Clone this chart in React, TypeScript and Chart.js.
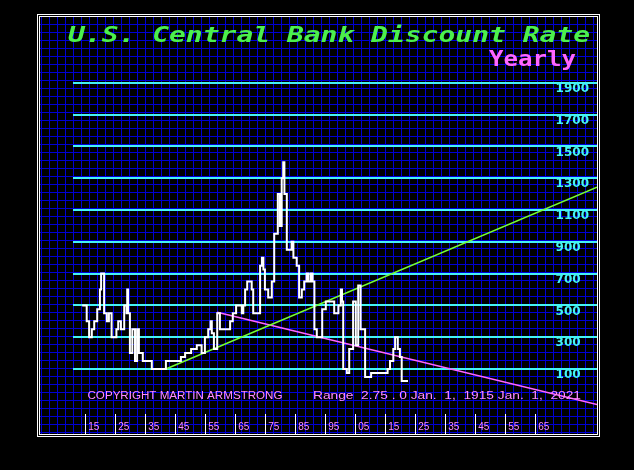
import React, { useEffect, useRef } from 'react';
import { Chart, registerables } from 'chart.js';

Chart.register(...registerables);

// ---- data (rate in basis points, i.e. 100 = 1%) ----
const pathYears = [
  1913.8, 1915.3, 1916.1, 1917.0, 1917.8, 1918.8, 1919.7, 1920.1, 1921.1, 1922.0,
  1922.7, 1923.6, 1925.2, 1925.8, 1926.7, 1927.8, 1928.6, 1928.8, 1929.1, 1929.7,
  1930.5, 1931.4, 1932.1, 1932.7, 1934.0, 1937.0, 1941.7, 1946.7, 1948.1, 1950.1,
  1952.0, 1953.6, 1954.7, 1955.8, 1956.6, 1957.0, 1957.7, 1958.8, 1959.7, 1963.1,
  1964.0, 1965.1, 1967.0, 1967.5, 1968.1, 1968.8, 1970.3, 1970.8, 1973.1, 1973.7,
  1974.2, 1974.7, 1975.8, 1977.0, 1977.8, 1979.0, 1979.7, 1980.3, 1980.8, 1981.2,
  1982.0, 1983.6, 1984.2, 1985.3, 1986.1, 1987.0, 1987.8, 1988.6, 1989.2, 1990.0,
  1990.6, 1991.2, 1992.0, 1993.8, 1995.0, 1997.8, 1999.2, 2000.0, 2000.4, 2000.8,
  2002.0, 2002.8, 2004.1, 2005.0, 2005.8, 2006.6, 2008.1, 2010.1, 2015.6, 2016.4,
  2017.5, 2018.1, 2019.0, 2019.7, 2020.3, 2022.4,
];
const pathRates = [
  500, 400, 300, 350, 400, 475, 600, 700, 450, 400,
  450, 300, 350, 400, 350, 500, 450, 600, 450, 200,
  350, 150, 350, 200, 150, 100, 150, 175, 200, 225,
  250, 200, 300, 350, 400, 325, 225, 450, 350, 400,
  450, 500, 450, 500, 600, 650, 600, 450, 750, 800,
  725, 600, 550, 650, 950, 1200, 1000, 1300, 1400, 1200,
  850, 900, 800, 750, 550, 600, 650, 700, 650, 700,
  650, 350, 300, 475, 525, 450, 500, 600, 525, 100,
  75, 225, 525, 250, 625, 350, 50, 75, 100, 150,
  225, 300, 225, 175, 25, 25,
];
const greenTrendYears = [1941.7, 2085.4];
const greenTrendRates = [100, 1243];
const pinkTrendYears = [1958.8, 2085.4];
const pinkTrendRates = [457, -123];

const yTickValues = [100, 300, 500, 700, 900, 1100, 1300, 1500, 1700, 1900];
const xTickYears = [1915, 1925, 1935, 1945, 1955, 1965, 1975, 1985, 1995, 2005, 2015, 2025, 2035, 2045, 2055, 2065];
const xTickLabels = ['15', '25', '35', '45', '55', '65', '75', '85', '95', '05', '15', '25', '35', '45', '55', '65'];

const titleText = 'U.S. Central Bank Discount Rate';
const subtitleText = 'Yearly';
const copyrightText = 'COPYRIGHT MARTIN ARMSTRONG';
const rangeText = 'Range  2.75 . 0 Jan.  1,  1915 Jan.  1,  2021';

// ---- styles ----
const GRID_BLUE = '#0000d4';
const CYAN = '#44f4f4';
const TITLE_GREEN = '#4cf04c';
const MAGENTA = '#ff66ff';
const TEXT_PINK = '#ff8cff';
const TREND_GREEN = '#77ff33';

function drawStretched(
  ctx: CanvasRenderingContext2D,
  text: string,
  font: string,
  color: string,
  left: number,
  baseline: number,
  width: number
) {
  ctx.save();
  ctx.font = font;
  const w = ctx.measureText(text).width;
  ctx.translate(left, baseline);
  ctx.scale(width / w, 1);
  ctx.fillStyle = color;
  ctx.textBaseline = 'alphabetic';
  ctx.textAlign = 'left';
  ctx.fillText(text, 0, 0);
  ctx.restore();
}

export default function App() {
  const canvasRef = useRef<HTMLCanvasElement>(null);

  useEffect(() => {
    const canvas = canvasRef.current;
    if (!canvas) return;

    const screenPlugin = {
      id: 'screenBackground',
      beforeDraw(chart: any) {
        const ctx = chart.ctx as CanvasRenderingContext2D;
        ctx.save();
        ctx.fillStyle = '#000000';
        ctx.fillRect(0, 0, chart.width, chart.height);
        ctx.fillStyle = GRID_BLUE;
        for (let x = 41; x < 597; x += 8) ctx.fillRect(x, 17, 1, 417);
        for (let y = 24; y < 434; y += 8) ctx.fillRect(40, y, 557, 1);
        ctx.restore();
      },
      afterDraw(chart: any) {
        const ctx = chart.ctx as CanvasRenderingContext2D;
        ctx.save();
        ctx.strokeStyle = '#ffffff';
        ctx.lineWidth = 1;
        ctx.strokeRect(37.5, 14.5, 562, 422);
        ctx.strokeRect(39.5, 16.5, 558, 418);
        ctx.restore();
        drawStretched(ctx, titleText, 'italic bold 22px "DejaVu Sans Mono"', TITLE_GREEN, 68, 42, 522);
        drawStretched(ctx, subtitleText, 'bold 22px "DejaVu Sans Mono"', MAGENTA, 489, 65.5, 87);
        drawStretched(ctx, copyrightText, '10px "Liberation Sans"', TEXT_PINK, 87.5, 398.5, 195);
        drawStretched(ctx, rangeText, '10px "Liberation Sans"', TEXT_PINK, 313, 398.5, 268);
      },
    };

    const chart = new Chart(canvas, {
      type: 'line',
      data: {
        datasets: [
          {
            label: 'Discount rate',
            data: pathYears.map((x, i) => ({ x, y: pathRates[i] })),
            borderColor: '#ffffff',
            borderWidth: 2,
            pointRadius: 0,
            stepped: 'before',
            borderJoinStyle: 'miter',
            borderCapStyle: 'butt',
            fill: false,
            order: 1,
          },
          {
            label: 'Rising trend',
            data: greenTrendYears.map((x, i) => ({ x, y: greenTrendRates[i] })),
            borderColor: TREND_GREEN,
            borderWidth: 1.5,
            pointRadius: 0,
            fill: false,
            order: 2,
          },
          {
            label: 'Falling trend',
            data: pinkTrendYears.map((x, i) => ({ x, y: pinkTrendRates[i] })),
            borderColor: MAGENTA,
            borderWidth: 1.5,
            pointRadius: 0,
            fill: false,
            order: 2,
          },
        ],
      },
      options: {
        responsive: false,
        animation: false,
        events: [],
        layout: { padding: { left: 73, right: 37, top: 16, bottom: 35 } },
        plugins: {
          legend: { display: false },
          tooltip: { enabled: false },
          title: { display: false },
        },
        scales: {
          x: {
            type: 'linear',
            display: false,
            min: 1910.73,
            max: 2085.4,
            bounds: 'data',
          },
          xt: {
            type: 'linear',
            position: 'bottom',
            min: 1910.73,
            max: 2085.4,
            bounds: 'data',
            afterBuildTicks: (scale: any) => {
              scale.ticks = xTickYears.map((v) => ({ value: v }));
            },
            afterFit: (scale: any) => {
              scale.height = 21;
            },
            grid: {
              drawOnChartArea: false,
              drawTicks: true,
              tickLength: 21,
              color: '#ffffff',
              lineWidth: 1,
            },
            border: { display: false },
            ticks: {
              autoSkip: false,
              maxRotation: 0,
              minRotation: 0,
              padding: -14,
              labelOffset: 8,
              color: TEXT_PINK,
              font: { family: 'Liberation Sans', size: 10 },
              callback: (_v: any, i: number) => xTickLabels[i],
            },
          },
          y: {
            type: 'linear',
            position: 'right',
            min: -183,
            max: 2320,
            bounds: 'data',
            afterBuildTicks: (scale: any) => {
              scale.ticks = yTickValues.map((v) => ({ value: v }));
            },
            afterFit: (scale: any) => {
              scale.width = 0;
            },
            grid: {
              color: CYAN,
              lineWidth: 2,
              drawTicks: false,
            },
            border: { display: false },
            ticks: {
              mirror: true,
              crossAlign: 'far',
              padding: -8,
              labelOffset: 6,
              autoSkip: false,
              color: CYAN,
              font: { family: 'DejaVu Sans', size: 12, weight: 'bold' },
              callback: (v: any) => String(v),
            },
          },
        },
      },
      plugins: [screenPlugin],
    } as any);

    return () => {
      chart.destroy();
    };
  }, []);

  return (
    <div style={{ position: 'fixed', left: 0, top: 0, width: 634, height: 470, background: '#000' }}>
      <canvas ref={canvasRef} width={634} height={470} style={{ display: 'block', width: 634, height: 470 }} />
    </div>
  );
}
